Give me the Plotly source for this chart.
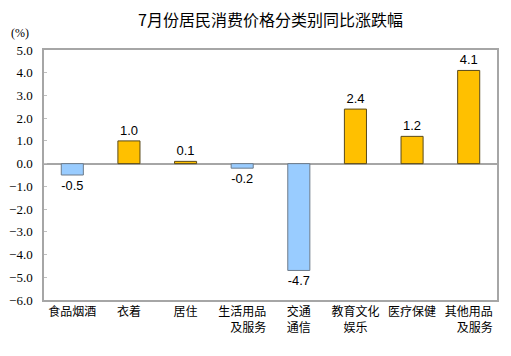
import plotly.graph_objects as go

categories = ["食品烟酒", "衣着", "居住", "生活用品<br>\u3000及服务", "交通<br>通信", "教育文化<br>娱乐", "医疗保健", "其他用品<br>\u3000及服务"]
values = [-0.5, 1.0, 0.1, -0.2, -4.7, 2.4, 1.2, 4.1]
y_ticks = [5.0, 4.0, 3.0, 2.0, 1.0, 0.0, -1.0, -2.0, -3.0, -4.0, -5.0, -6.0]

colors = ["#99CCFF" if v < 0 else "#FFC000" for v in values]
line_colors = ["#6d7b8a" if v < 0 else "#5a4a1a" for v in values]

SERIF = "Liberation Serif"

fig = go.Figure(go.Bar(
    x=categories, y=values,
    marker=dict(color=colors, line=dict(color=line_colors, width=1)),
    width=0.39,
    text=[f"{v:.1f}" for v in values],
    textposition="outside",
    textfont=dict(family="Liberation Sans", size=13, color="#000"),
    cliponaxis=False,
))

fig.update_layout(
    width=511, height=356,
    margin=dict(l=44, r=14, t=50, b=56, autoexpand=False),
    paper_bgcolor="white", plot_bgcolor="white",
    showlegend=False,
    title=dict(text="7月份居民消费价格分类别同比涨跌幅", x=0.5, xanchor="center", xref="paper",
               y=1 - 20 / 356, yanchor="middle",
               font=dict(family="Noto Sans CJK SC", size=16, color="#000")),
    annotations=[dict(text="(%)", xref="paper", yref="paper", x=-0.052, y=1.068, xanchor="center", yanchor="middle",
                      showarrow=False, font=dict(family=SERIF, size=12, color="#000"))],
)
fig.update_xaxes(
    automargin=False,
    showline=True, mirror=True, linecolor="#a6a6a6", linewidth=1.5,
    ticks="", showgrid=False,
    tickfont=dict(family="Noto Sans CJK SC", size=12, color="#000"),
)
fig.update_yaxes(
    automargin=False,
    range=[-6, 5], tickvals=y_ticks, tickformat=".1f",
    showline=True, mirror=True, linecolor="#a6a6a6", linewidth=1.5,
    ticks="inside", ticklen=3, tickcolor="#bfbfbf",
    ticklabelstandoff=7,
    showgrid=False, zeroline=True, zerolinecolor="#a6a6a6", zerolinewidth=1.5,
    tickfont=dict(family=SERIF, size=13, color="#000"),
)

fig.write_html("out.html", config={"displayModeBar": False},
               post_script="document.body.style.margin='0';document.body.style.padding='0';")
